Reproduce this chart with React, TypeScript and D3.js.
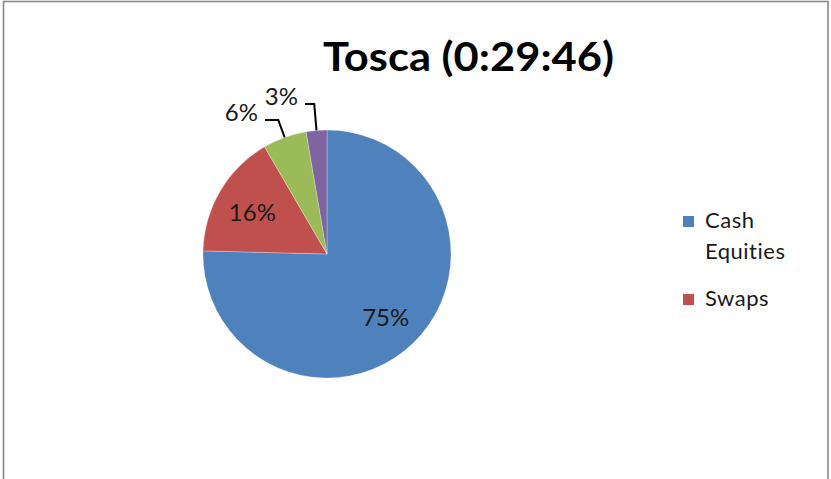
import React from "react";
import * as d3 from "d3";

const title = "Tosca (0:29:46)";
const categories = ["Cash Equities", "Swaps", "Series 3", "Series 4"];
const values = [75.4, 16.2, 5.7, 2.7];
const colors = ["#4F81BD", "#C0504D", "#9BBB59", "#8064A2"];
const legendShown = [
  { lines: ["Cash", "Equities"], idx: 0 },
  { lines: ["Swaps"], idx: 1 },
];

const W = 831;
const H = 479;
const cx = 327;
const cy = 254;
const R = 124;
const FONT = "Lato, 'Open Sans', 'Liberation Sans', sans-serif";

// layout for outside labels (index -> label line y and text right end)
const outside: Record<number, { y: number; xEnd: number }> = {
  2: { y: 120, xEnd: 258 },
  3: { y: 104, xEnd: 298 },
};

export default function App() {
  const total = d3.sum(values);
  const pie = d3
    .pie<number>()
    .sort(null)
    .value((d) => d)
    .startAngle(0)
    .endAngle(2 * Math.PI);
  const arcs = pie(values);
  const arcGen = d3.arc<d3.PieArcDatum<number>>().innerRadius(0).outerRadius(R);
  const labelArc = d3
    .arc<d3.PieArcDatum<number>>()
    .innerRadius(R * 0.69)
    .outerRadius(R * 0.69);

  return (
    <svg
      width={W}
      height={H}
      style={{ position: "absolute", left: 0, top: 0, background: "#fff" }}
      fontFamily={FONT}
    >
      <rect x={3.5} y={1.5} width={824.5} height={H + 20} fill="#fff" stroke="#8a8a8a" strokeWidth={1.6} />
      <text
        x={323}
        y={71}
        fontSize={41}
        fontWeight="bold"
        fill="#000"
        textLength={291}
        lengthAdjust="spacingAndGlyphs"
      >
        {title}
      </text>
      <g transform={`translate(${cx},${cy})`}>
        {arcs.map((a, i) => (
          <path key={i} d={arcGen(a) || ""} fill={colors[i]} stroke="#fff" strokeOpacity={0.35} strokeWidth={0.8} />
        ))}
      </g>
      {arcs.map((a, i) => {
        const pct = `${Math.round((a.value / total) * 100)}%`;
        const o = outside[i];
        if (!o) {
          const [lx, ly] = labelArc.centroid(a);
          return (
            <text
              key={i}
              x={cx + lx - 1}
              y={cy + ly + 1}
              textAnchor="middle"
              dominantBaseline="central"
              fontSize={24}
              fill="#1a1a1a"
            >
              {pct}
            </text>
          );
        }
        const mid = (a.startAngle + a.endAngle) / 2;
        const px = cx + R * Math.sin(mid);
        const py = cy - R * Math.cos(mid);
        const t = (cy - o.y) / Math.cos(mid);
        const ex = cx + t * Math.sin(mid);
        const path = d3.path();
        path.moveTo(o.xEnd + 7, o.y);
        path.lineTo(ex, o.y);
        path.lineTo(px, py);
        return (
          <g key={i}>
            <path d={path.toString()} fill="none" stroke="#000" strokeWidth={2} />
            <text x={o.xEnd} y={o.y + 1} textAnchor="end" fontSize={24} fill="#1a1a1a">
              {pct}
            </text>
          </g>
        );
      })}
      {legendShown.map((l, k) => {
        const y0 = k === 0 ? 228 : 306;
        return (
          <g key={k}>
            <rect x={683} y={y0 - 12} width={11} height={11} fill={colors[l.idx]} />
            {l.lines.map((ln, j) => (
              <text key={j} x={705} y={y0 + j * 31} fontSize={22} letterSpacing={0.5} fill="#1a1a1a">
                {ln}
              </text>
            ))}
          </g>
        );
      })}
    </svg>
  );
}
